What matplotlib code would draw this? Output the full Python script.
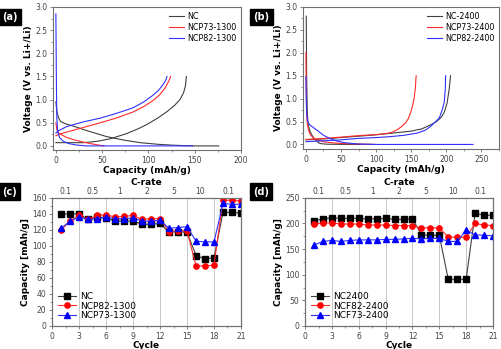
import numpy as np
import matplotlib.pyplot as plt
from matplotlib.ticker import MultipleLocator

# ---- (a) voltage profiles, 1300 series ----
nc_dis_cap = [0, 1, 3, 5, 10, 20, 35, 55, 75, 91, 110, 127, 140, 150, 176]
nc_dis_v = [0.95, 0.75, 0.6, 0.53, 0.48, 0.42, 0.32, 0.2, 0.12, 0.07, 0.035, 0.015, 0.005, 0.0, 0.0]
nc_ch_cap = [0, 30, 45, 60, 77, 90, 98, 110, 120, 128, 134, 138, 140, 141]
nc_ch_v = [0.07, 0.07, 0.1, 0.16, 0.27, 0.38, 0.46, 0.6, 0.74, 0.87, 1.0, 1.15, 1.3, 1.5]

n73_dis_cap = [0, 1, 3, 6, 12, 20, 30, 40, 52]
n73_dis_v = [0.5, 0.35, 0.28, 0.24, 0.18, 0.13, 0.08, 0.04, 0.0]
n73_ch_cap = [0, 3, 12, 30, 48, 65, 83, 95, 105, 112, 118, 122, 124]
n73_ch_v = [0.22, 0.25, 0.3, 0.4, 0.5, 0.6, 0.73, 0.85, 0.98, 1.1, 1.25, 1.4, 1.5]

n82_dis_cap = [0, 0.5, 1, 2, 4, 8, 14, 22, 33, 148]
n82_dis_v = [2.85, 1.5, 0.6, 0.3, 0.18, 0.1, 0.05, 0.02, 0.0, 0.0]
n82_ch_cap = [0, 3, 12, 30, 48, 65, 83, 95, 104, 111, 116, 119, 120]
n82_ch_v = [0.28, 0.33, 0.42, 0.52, 0.6, 0.7, 0.82, 0.95, 1.08, 1.2, 1.33, 1.43, 1.5]

# ---- (b) voltage profiles, 2400 series ----
nc24_dis_cap = [0.5, 1, 2, 3, 5, 8, 12, 16, 20, 30, 60, 100]
nc24_dis_v = [2.8, 1.5, 0.7, 0.45, 0.32, 0.22, 0.12, 0.06, 0.02, 0.005, 0.0, 0.0]
nc24_ch_cap = [0, 25, 50, 75, 100, 125, 150, 165, 178, 186, 192, 197, 201, 204, 206]
nc24_ch_v = [0.1, 0.12, 0.15, 0.18, 0.21, 0.25, 0.29, 0.34, 0.43, 0.5, 0.58, 0.7, 0.9, 1.2, 1.5]

n7324_dis_cap = [0, 0.5, 1, 2, 4, 6, 10, 15, 25, 34, 50, 73, 95]
n7324_dis_v = [2.0, 1.2, 0.7, 0.45, 0.3, 0.22, 0.15, 0.1, 0.06, 0.04, 0.02, 0.01, 0.0]
n7324_ch_cap = [0, 25, 50, 73, 95, 111, 122, 130, 137, 142, 146, 149, 152, 154, 156, 157]
n7324_ch_v = [0.11, 0.13, 0.16, 0.19, 0.21, 0.23, 0.26, 0.32, 0.4, 0.47, 0.57, 0.69, 0.85, 0.99, 1.25, 1.5]

n8224_dis_cap = [0, 0.5, 1, 2, 3, 6, 15, 25, 34, 45, 54, 73, 100, 238]
n8224_dis_v = [1.48, 1.0, 0.7, 0.55, 0.48, 0.42, 0.32, 0.2, 0.13, 0.07, 0.04, 0.01, 0.0, 0.0]
n8224_ch_cap = [0, 25, 50, 73, 100, 120, 140, 159, 170, 178, 185, 190, 194, 197, 198.5, 199]
n8224_ch_v = [0.06, 0.08, 0.1, 0.13, 0.15, 0.17, 0.2, 0.25, 0.31, 0.4, 0.5, 0.58, 0.75, 0.92, 1.2, 1.5]

# ---- (c), (d) rate capability ----
cycles = list(range(1, 22))
crate_labels = ["0.1", "0.5", "1", "2", "5", "10", "0.1"]
crate_pos = [1.5, 4.5, 7.5, 10.5, 13.5, 16.5, 19.6]
sep_lines = [3, 6, 9, 12, 15, 18]

nc_1300 = [140, 140, 140, 133, 136, 135, 131, 131, 131, 127, 127, 128,
           117, 118, 117, 88, 84, 85, 142, 142, 141]
ncp82_1300 = [120, 131, 138, 133, 138, 139, 136, 137, 138, 133, 134, 134,
              118, 119, 119, 75, 75, 76, 157, 157, 156]
ncp73_1300 = [122, 131, 136, 133, 134, 136, 134, 134, 135, 131, 131, 132,
              122, 123, 124, 106, 105, 105, 153, 152, 152]

nc_2400 = [205, 209, 211, 210, 210, 210, 209, 209, 210, 208, 208, 209,
           178, 177, 177, 91, 91, 91, 220, 216, 216]
ncp82_2400 = [199, 201, 201, 199, 199, 199, 197, 197, 197, 196, 196, 196,
              191, 192, 191, 174, 173, 173, 200, 197, 196]
ncp73_2400 = [158, 165, 167, 165, 167, 168, 168, 168, 169, 169, 170, 171,
              170, 171, 171, 165, 165, 187, 178, 177, 176]

K = "#404040"
R = "#ff2a2a"
B = "#3030ff"
FR = "#707070"


def style(ax):
    for s in ax.spines.values():
        s.set_color(FR)
        s.set_linewidth(0.8)
    ax.tick_params(labelsize=5.5, colors=FR, labelcolor="#444444", length=2.5, width=0.6, pad=1.5)
    ax.tick_params(which="minor", length=1.5, width=0.5, colors=FR)


fig = plt.figure(figsize=(5.01, 3.49), dpi=100)
ax1 = fig.add_axes([0.106, 0.570, 0.375, 0.410])
ax2 = fig.add_axes([0.605, 0.573, 0.391, 0.407])
ax3 = fig.add_axes([0.104, 0.066, 0.377, 0.367])
ax4 = fig.add_axes([0.609, 0.066, 0.375, 0.367])

lw = 0.8
# (a)
ax1.plot(nc_dis_cap, nc_dis_v, color=K, lw=lw, label="NC")
ax1.plot(nc_ch_cap, nc_ch_v, color=K, lw=lw)
ax1.plot(n73_dis_cap, n73_dis_v, color=R, lw=lw, label="NCP73-1300")
ax1.plot(n73_ch_cap, n73_ch_v, color=R, lw=lw)
ax1.plot(n82_dis_cap, n82_dis_v, color=B, lw=lw, label="NCP82-1300")
ax1.plot(n82_ch_cap, n82_ch_v, color=B, lw=lw)
ax1.set_xlim(-3, 200)
ax1.set_ylim(-0.09, 3.0)
ax1.xaxis.set_major_locator(MultipleLocator(50))
ax1.xaxis.set_minor_locator(MultipleLocator(25))
ax1.yaxis.set_major_locator(MultipleLocator(0.5))
ax1.yaxis.set_minor_locator(MultipleLocator(0.25))
ax1.yaxis.set_major_formatter(plt.FormatStrFormatter("%.1f"))
ax1.legend(loc="upper right", frameon=False, fontsize=5.8, handlelength=1.8,
           labelspacing=0.25, borderaxespad=0.2, handletextpad=0.4)

# (b)
ax2.plot(nc24_dis_cap, nc24_dis_v, color=K, lw=lw, label="NC-2400")
ax2.plot(nc24_ch_cap, nc24_ch_v, color=K, lw=lw)
ax2.plot(n7324_dis_cap, n7324_dis_v, color=R, lw=lw, label="NCP73-2400")
ax2.plot(n7324_ch_cap, n7324_ch_v, color=R, lw=lw)
ax2.plot(n8224_dis_cap, n8224_dis_v, color=B, lw=lw, label="NCP82-2400")
ax2.plot(n8224_ch_cap, n8224_ch_v, color=B, lw=lw)
ax2.set_xlim(-4, 275)
ax2.set_ylim(-0.1, 3.0)
ax2.xaxis.set_major_locator(MultipleLocator(50))
ax2.xaxis.set_minor_locator(MultipleLocator(25))
ax2.yaxis.set_major_locator(MultipleLocator(0.5))
ax2.yaxis.set_minor_locator(MultipleLocator(0.25))
ax2.yaxis.set_major_formatter(plt.FormatStrFormatter("%.1f"))
ax2.legend(loc="upper right", frameon=False, fontsize=5.8, handlelength=1.8,
           labelspacing=0.25, borderaxespad=0.2, handletextpad=0.4)

for ax in (ax1, ax2):
    style(ax)
    ax.set_xlabel("Capacity (mAh/g)", fontsize=6.5, fontweight="bold", labelpad=1)
    ax.set_ylabel("Voltage (V vs. Li+/Li)", fontsize=6.5, fontweight="bold", labelpad=1.5)

# (c), (d)
ms = 3.8
ax3.plot(cycles, nc_1300, "-s", color=K, mfc="black", mec="black", ms=ms, lw=0.8, label="NC")
ax3.plot(cycles, ncp82_1300, "-o", color=R, mfc="red", mec="red", ms=ms, lw=0.8, label="NCP82-1300")
ax3.plot(cycles, ncp73_1300, "-^", color=B, mfc="blue", mec="blue", ms=ms, lw=0.8, label="NCP73-1300")
ax3.set_ylim(0, 160)
ax3.yaxis.set_major_locator(MultipleLocator(20))
ax3.yaxis.set_minor_locator(MultipleLocator(10))

ax4.plot(cycles, nc_2400, "-s", color=K, mfc="black", mec="black", ms=ms, lw=0.8, label="NC2400")
ax4.plot(cycles, ncp82_2400, "-o", color=R, mfc="red", mec="red", ms=ms, lw=0.8, label="NCF82-2400")
ax4.plot(cycles, ncp73_2400, "-^", color=B, mfc="blue", mec="blue", ms=ms, lw=0.8, label="NCF73-2400")
ax4.set_ylim(0, 250)
ax4.yaxis.set_major_locator(MultipleLocator(50))
ax4.yaxis.set_minor_locator(MultipleLocator(25))

for ax in (ax3, ax4):
    for x in sep_lines:
        ax.axvline(x, color="#c8c8c8", lw=0.7, zorder=0)
    ax.set_xlim(0, 21)
    ax.xaxis.set_major_locator(MultipleLocator(3))
    ax.xaxis.set_minor_locator(MultipleLocator(1.5))
    style(ax)
    ax.set_xlabel("Cycle", fontsize=6.5, fontweight="bold", labelpad=0.5)
    ax.set_ylabel("Capacity [mAh/g]", fontsize=6.5, fontweight="bold", labelpad=1.5)
    ax.legend(loc="lower left", frameon=False, fontsize=6.5, handlelength=2.0,
              labelspacing=0.05, borderaxespad=0.25, handletextpad=0.4)
    top = ax.twiny()
    top.set_xlim(0, 21)
    top.set_xticks(crate_pos)
    top.set_xticklabels(crate_labels)
    top.tick_params(length=0, labelsize=5.5, labelcolor="#444444", pad=1.5)
    top.set_xlabel("C-rate", fontsize=6.5, fontweight="bold", labelpad=1.5)
    for s in top.spines.values():
        s.set_color(FR)
        s.set_linewidth(0.8)

# panel tags
for x, y, t in [(0.0, 0.937, "(a)"), (0.501, 0.937, "(b)"),
                (0.0, 0.436, "(c)"), (0.501, 0.436, "(d)")]:
    fig.text(x + 0.004, y, t, color="white", fontsize=7, fontweight="bold",
             va="bottom", ha="left",
             bbox=dict(boxstyle="square,pad=0.35", fc="black", ec="black"))

fig.savefig("out.png", dpi=100)
